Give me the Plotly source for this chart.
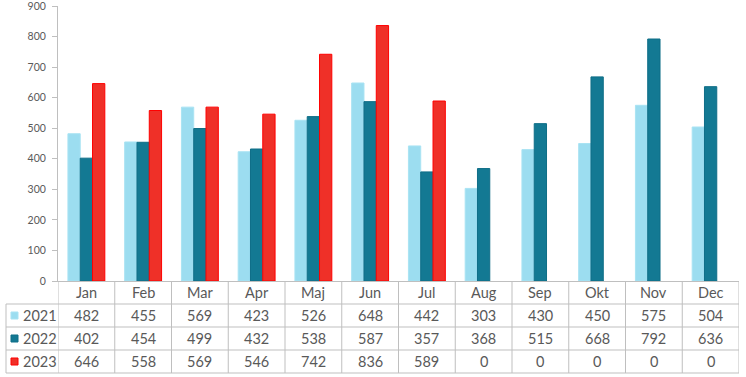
import plotly.graph_objects as go

months = ["Jan", "Feb", "Mar", "Apr", "Maj", "Jun", "Jul", "Aug", "Sep", "Okt", "Nov", "Dec"]
series_names = ["2021", "2022", "2023"]
v2021 = [482, 455, 569, 423, 526, 648, 442, 303, 430, 450, 575, 504]
v2022 = [402, 454, 499, 432, 538, 587, 357, 368, 515, 668, 792, 636]
v2023 = [646, 558, 569, 546, 742, 836, 589, 0, 0, 0, 0, 0]
yticks = [0, 100, 200, 300, 400, 500, 600, 700, 800, 900]

fills = ["#9CDDF0", "#137993", "#EF3028"]
lines = ["#A9E3F3", "#0F6E87", "#FF0000"]
values = [v2021, v2022, v2023]

W, H = 746, 377
L, R, T, B = 58, 7, 6, 96
PW = W - L - R
PH = H - T - B
GRID = "#BFBFBF"
TXT = "#595959"
FONT = "Lato, Open Sans, sans-serif"

def py(ypix):
    return (H - B - ypix) / PH

def px(xpix):
    return (xpix - L) / PW

fig = go.Figure()
for name, vals, fc, lc in zip(series_names, values, fills, lines):
    fig.add_trace(go.Bar(
        x=months, y=[v if v else None for v in vals], name=name,
        marker=dict(color=fc, line=dict(color=lc, width=1)),
        showlegend=False, hoverinfo="skip",
    ))

shapes = []
annotations = []
row_edges = [281, 304, 327, 350, 373]
left_border = 6
for k in range(len(months) + 1):
    shapes.append(dict(type="line", xref="x", yref="paper", x0=k - 0.5, x1=k - 0.5,
                       y0=py(row_edges[0]), y1=py(row_edges[-1]),
                       line=dict(color=GRID, width=1)))
shapes.append(dict(type="line", xref="paper", yref="paper", x0=px(left_border), x1=px(left_border),
                   y0=py(row_edges[1]), y1=py(row_edges[-1]), line=dict(color=GRID, width=1)))
for ye in row_edges[1:]:
    shapes.append(dict(type="line", xref="paper", yref="paper", x0=px(left_border), x1=1,
                       y0=py(ye), y1=py(ye), line=dict(color=GRID, width=1)))

for i, m in enumerate(months):
    annotations.append(dict(x=i, y=py((row_edges[0] + row_edges[1]) / 2), xref="x", yref="paper",
                            text=m, showarrow=False, font=dict(family=FONT, size=14.5, color=TXT),
                            xanchor="center", yanchor="middle"))
for r, (name, vals, fc, lc) in enumerate(zip(series_names, values, fills, lines)):
    yc = (row_edges[r + 1] + row_edges[r + 2]) / 2
    for i, v in enumerate(vals):
        annotations.append(dict(x=i, y=py(yc), xref="x", yref="paper", text=str(v), showarrow=False,
                                font=dict(family=FONT, size=14.5, color=TXT),
                                xanchor="center", yanchor="middle"))
    shapes.append(dict(type="rect", xref="paper", yref="paper",
                       x0=px(11), x1=px(18), y0=py(yc + 3.5), y1=py(yc - 3.5),
                       fillcolor=fc, line=dict(color=lc, width=1)))
    annotations.append(dict(x=px(21), y=py(yc), xref="paper", yref="paper", text=name, showarrow=False,
                            font=dict(family=FONT, size=14.5, color=TXT), xanchor="left", yanchor="middle"))

fig.update_layout(
    template="none",
    width=W, height=H,
    margin=dict(l=L, r=R, t=T, b=B, autoexpand=False),
    paper_bgcolor="white", plot_bgcolor="white",
    barmode="group", bargap=0.35, bargroupgap=0,
    shapes=shapes, annotations=annotations,
    xaxis=dict(range=[-0.5, 11.5], showticklabels=False, showline=True, linecolor=GRID,
               linewidth=1, ticks="", showgrid=False, zeroline=False, fixedrange=True,
               automargin=False),
    yaxis=dict(range=[0, 900], tickvals=yticks, showline=True, linecolor=GRID, linewidth=1,
               ticks="outside", ticklen=5, tickcolor=GRID, showgrid=False, zeroline=False,
               tickfont=dict(family=FONT, size=10.5, color=TXT), ticklabelstandoff=4,
               ticklabeloverflow="allow", automargin=False, fixedrange=True),
    font=dict(family=FONT, color=TXT),
)

fig.write_html("out.html", config={"displayModeBar": False, "staticPlot": True},
               post_script="document.body.style.margin='0';document.body.style.overflow='hidden';")
